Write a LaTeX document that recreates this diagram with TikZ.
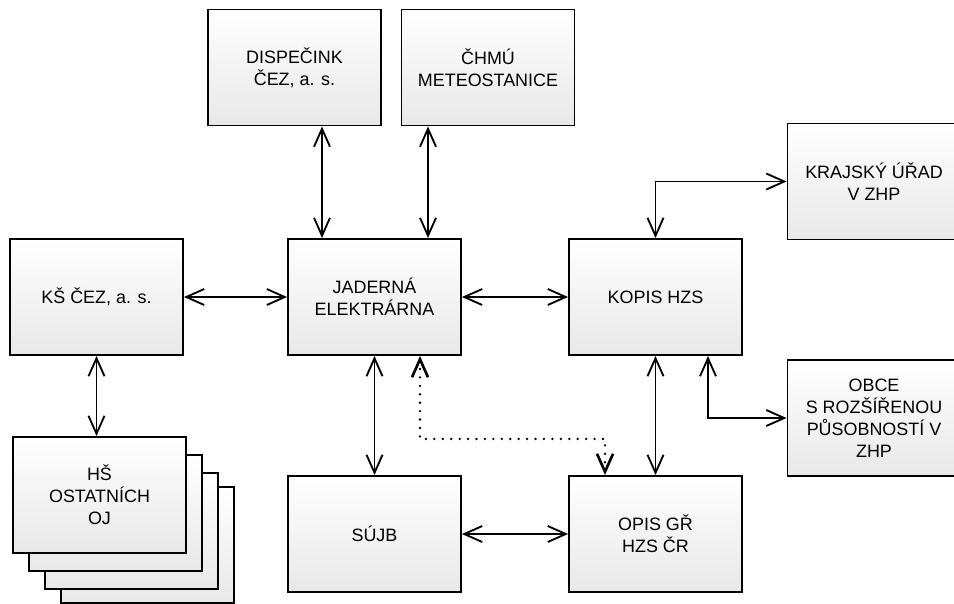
\documentclass[tikz,border=0pt]{standalone}
\usepackage{fontspec}
\setmainfont{Liberation Sans}
\usetikzlibrary{%
	calc,%
	arrows.meta,%
	positioning,%
}
\tikzset{
	nodes={align=center},%
	unitbox/.style={%
			draw,%
			rectangle,%
			line width=1.1pt,%
			minimum width=3.46cm,%
			minimum height=2.32cm,%
			top color=white,%
			bottom color=gray!18,%
			font={\fontsize{10.2}{12.5}\selectfont}},%
	linkarrow/.style={%
			{Straight Barb[length=3.6mm,width=3.2mm]}-{Straight Barb[length=3.6mm,width=3.2mm]},%
			line width=1.05pt},%
	dotarrow/.style={%
			linkarrow,%
			line width=1.5pt,%
			line cap=round,%
			dash pattern=on 0pt off 4.8pt},%
}

\begin{document}
\begin{tikzpicture}[x=0.02cm, y=-0.02cm]%
	\useasboundingbox (0,0) rectangle (954,603);
	\clip (0,0) rectangle (954,603);

	\node[unitbox] (disp) at (294.5,67.5) {DISPEČINK\\ČEZ, a. s.};
	\node[unitbox] (chmu) at (488,67.5) {ČHMÚ\\METEOSTANICE};
	\node[unitbox] (kraj) at (874,181.5) {KRAJSKÝ ÚŘAD\\V ZHP};
	\node[unitbox] (ks) at (96.5,297) {KŠ ČEZ, a. s.};
	\node[unitbox] (jad) at (374.5,297) {JADERNÁ\\ELEKTRÁRNA};
	\node[unitbox] (kopis) at (655.5,297) {KOPIS HZS};
	\node[unitbox] (obce) at (874,418) {OBCE\\S ROZŠÍŘENOU\\PŮSOBNOSTÍ V\\ZHP};
	\node[unitbox] (sujb) at (374.5,534) {SÚJB};
	\node[unitbox] (opis) at (655.5,534) {OPIS GŘ\\HZS ČR};

	% stack of the other units
	\node[unitbox] (hs4) at (147.5,545) {};
	\node[unitbox] (hs3) at (131.5,531) {};
	\node[unitbox] (hs2) at (115.5,513) {};
	\node[unitbox] (hs1) at (99.5,495) {HŠ\\OSTATNÍCH\\OJ};

	\draw[linkarrow] ([xshift=0.55cm]disp.south) -- ([xshift=0.55cm]disp.south |- jad.north);
	\draw[linkarrow] ([xshift=-1.2cm]chmu.south) -- ([xshift=-1.2cm]chmu.south |- jad.north);
	\draw[linkarrow] (ks.east) -- (jad.west);
	\draw[linkarrow] (jad.east) -- (kopis.west);
	\draw[linkarrow] (kopis.north) |- (kraj.west);
	\draw[linkarrow] ([xshift=1.05cm]kopis.south) |- (obce.west);
	\draw[linkarrow] (kopis.south) -- (opis.north);
	\draw[linkarrow] (jad.south) -- (sujb.north);
	\draw[linkarrow] (sujb.east) -- (opis.west);
	\draw[linkarrow] (ks.south) -- (ks.south |- hs1.north);
	\draw[dotarrow] ([xshift=0.91cm]jad.south) -- ++(0,-1.66cm) -| ([xshift=-1.01cm]opis.north);
\end{tikzpicture}
\end{document}
